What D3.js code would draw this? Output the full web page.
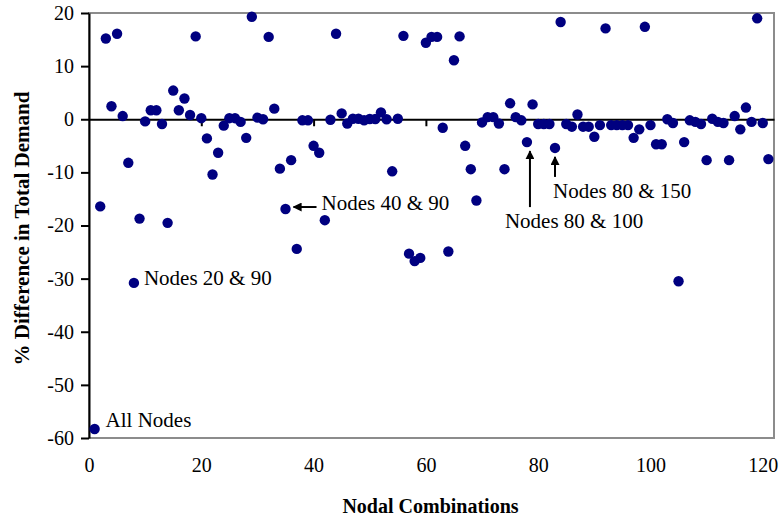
<!DOCTYPE html>
<html lang="en">
<head>
  <meta charset="UTF-8" />
  <title>% Difference in Total Demand</title>
  <script src="https://d3js.org/d3.v7.min.js"></script>
  <style>
    body {
      margin: 0;
      background: #fff;
    }
    svg text {
      font-family: "Liberation Serif", "Times New Roman", serif;
      fill: #000;
    }
  </style>
</head>
<body>

<svg id="chart" width="782" height="520"></svg>

<script>
// Nodal combination index 1..121
const combos = d3.range(1, 122);

// % difference in total demand
const diffs = [
  -58.3, -16.4, 15.2, 2.45, 16.1, 0.6, -8.2, -30.8, -18.7, -0.4,
  1.7, 1.7, -0.9, -19.5, 5.4, 1.7, 3.9, 0.8, 15.6, 0.2,
  -3.6, -10.4, -6.3, -1.2, 0.2, 0.2, -0.5, -3.5, 19.3, 0.3,
  0.0, 15.5, 2.0, -9.3, -16.9, -7.7, -24.4, -0.2, -0.2, -5.0,
  -6.3, -19.0, -0.1, 16.1, 1.1, -0.8, 0.1, 0.1, -0.2, 0.05,
  0.05, 1.3, 0.0, -9.8, 0.1, 15.7, -25.3, -26.7, -26.1, 14.4,
  15.5, 15.5, -1.6, -24.9, 11.1, 15.6, -5.0, -9.4, -15.3, -0.6,
  0.4, 0.4, -0.8, -9.4, 3.0, 0.4, -0.2, -4.3, 2.8, -0.9,
  -0.9, -0.9, -5.4, 18.3, -0.9, -1.4, 0.9, -1.4, -1.4, -3.3,
  -1.1, 17.1, -1.1, -1.1, -1.1, -1.1, -3.5, -1.9, 17.4, -1.1,
  -4.7, -4.7, 0.0, -0.7, -30.5, -4.3, -0.2, -0.5, -0.9, -7.7,
  0.1, -0.5, -0.7, -7.7, 0.6, -1.9, 2.2, -0.5, 19.0, -0.7,
  -7.5
];

const xTicks = [0, 20, 40, 60, 80, 100, 120];
const yTicks = [-60, -50, -40, -30, -20, -10, 0, 10, 20];

// labelled combinations
const notes = [
  {idx: 1,  text: "All Nodes"},
  {idx: 8,  text: "Nodes 20 & 90"},
  {idx: 35, text: "Nodes 40 & 90"},
  {idx: 78, text: "Nodes 80 & 100"},
  {idx: 83, text: "Nodes 80 & 150"}
];

const data = combos.map((c, i) => ({x: c, y: diffs[i]}));

const svg = d3.select("#chart");
const m = {left: 89, right: 774, top: 13, bottom: 438};

const x = d3.scaleLinear().domain([0, 122]).range([m.left, m.right]);
const y = d3.scaleLinear().domain([-60, 20]).range([m.bottom, m.top]);

svg.append("defs").append("marker")
    .attr("id", "arrow")
    .attr("viewBox", "0 0 10 10")
    .attr("refX", 9).attr("refY", 5)
    .attr("markerWidth", 4.5).attr("markerHeight", 4.5)
    .attr("orient", "auto-start-reverse")
  .append("path")
    .attr("d", "M0,0 L10,5 L0,10 z")
    .attr("fill", "#000");

// plot area frame
svg.append("rect")
    .attr("x", m.left).attr("y", m.top)
    .attr("width", m.right - m.left).attr("height", m.bottom - m.top)
    .attr("fill", "none")
    .attr("stroke", "#8c8c8c")
    .attr("stroke-width", 2);

// y axis (plain hyphen for negatives, like the original)
const yAxis = svg.append("g")
    .attr("transform", `translate(${m.left},0)`)
    .call(d3.axisLeft(y).tickValues(yTicks).tickSize(8).tickPadding(7).tickSizeOuter(0)
      .tickFormat(d => String(d)));
yAxis.select(".domain").attr("stroke", "#000").attr("stroke-width", 2);
yAxis.selectAll(".tick line").attr("stroke", "#000").attr("stroke-width", 2);
yAxis.selectAll("text").style("font-size", "20px");

// zero line with tick marks
const zAxis = svg.append("g")
    .attr("transform", `translate(0,${y(0)})`)
    .call(d3.axisBottom(x).tickValues(xTicks.slice(1)).tickSize(7).tickSizeOuter(0).tickFormat(""));
zAxis.select(".domain").attr("stroke", "#000").attr("stroke-width", 2);
zAxis.selectAll(".tick line").attr("stroke", "#000").attr("stroke-width", 2);

// x tick labels below the plot
const xAxis = svg.append("g")
    .attr("transform", `translate(0,${m.bottom})`)
    .call(d3.axisBottom(x).tickValues(xTicks).tickSize(0).tickPadding(20));
xAxis.select(".domain").remove();
xAxis.selectAll("text").style("font-size", "20px");

// points
svg.append("g")
  .selectAll("circle")
  .data(data)
  .join("circle")
    .attr("cx", d => x(d.x))
    .attr("cy", d => y(d.y))
    .attr("r", 5.2)
    .attr("fill", "#000080");

// annotations
const ann = svg.append("g").style("font-size", "21px");
const pt = i => data[notes[i].idx - 1];

ann.append("text")
    .attr("x", x(pt(0).x) + 11).attr("y", y(pt(0).y) - 2)
    .text(notes[0].text);

ann.append("text")
    .attr("x", x(pt(1).x) + 10).attr("y", y(pt(1).y) + 2)
    .text(notes[1].text);

ann.append("line")
    .attr("x1", x(pt(2).x) + 31).attr("y1", y(pt(2).y) - 2)
    .attr("x2", x(pt(2).x) + 8).attr("y2", y(pt(2).y) - 2)
    .attr("stroke", "#000").attr("stroke-width", 2)
    .attr("marker-end", "url(#arrow)");
ann.append("text")
    .attr("x", x(pt(2).x) + 36).attr("y", y(pt(2).y) + 1)
    .text(notes[2].text);

ann.append("line")
    .attr("x1", x(pt(3).x) + 3).attr("y1", y(pt(3).y) + 65)
    .attr("x2", x(pt(3).x) + 3).attr("y2", y(pt(3).y) + 9)
    .attr("stroke", "#000").attr("stroke-width", 2)
    .attr("marker-end", "url(#arrow)");
ann.append("text")
    .attr("x", x(pt(3).x) - 22).attr("y", y(pt(3).y) + 86)
    .text(notes[3].text);

ann.append("line")
    .attr("x1", x(pt(4).x)).attr("y1", y(pt(4).y) + 29)
    .attr("x2", x(pt(4).x)).attr("y2", y(pt(4).y) + 9)
    .attr("stroke", "#000").attr("stroke-width", 2)
    .attr("marker-end", "url(#arrow)");
ann.append("text")
    .attr("x", x(pt(4).x) - 2).attr("y", y(pt(4).y) + 50)
    .text(notes[4].text);

// axis titles
svg.append("text")
    .attr("x", (m.left + m.right) / 2 - 1).attr("y", 513)
    .attr("text-anchor", "middle")
    .style("font-size", "20px").style("font-weight", "bold")
    .text("Nodal Combinations");

svg.append("text")
    .attr("transform", `translate(29,${(m.top + m.bottom) / 2 + 3}) rotate(-90)`)
    .attr("text-anchor", "middle")
    .style("font-size", "21px").style("font-weight", "bold")
    .text("% Difference in Total Demand");
</script>

</body>
</html>
